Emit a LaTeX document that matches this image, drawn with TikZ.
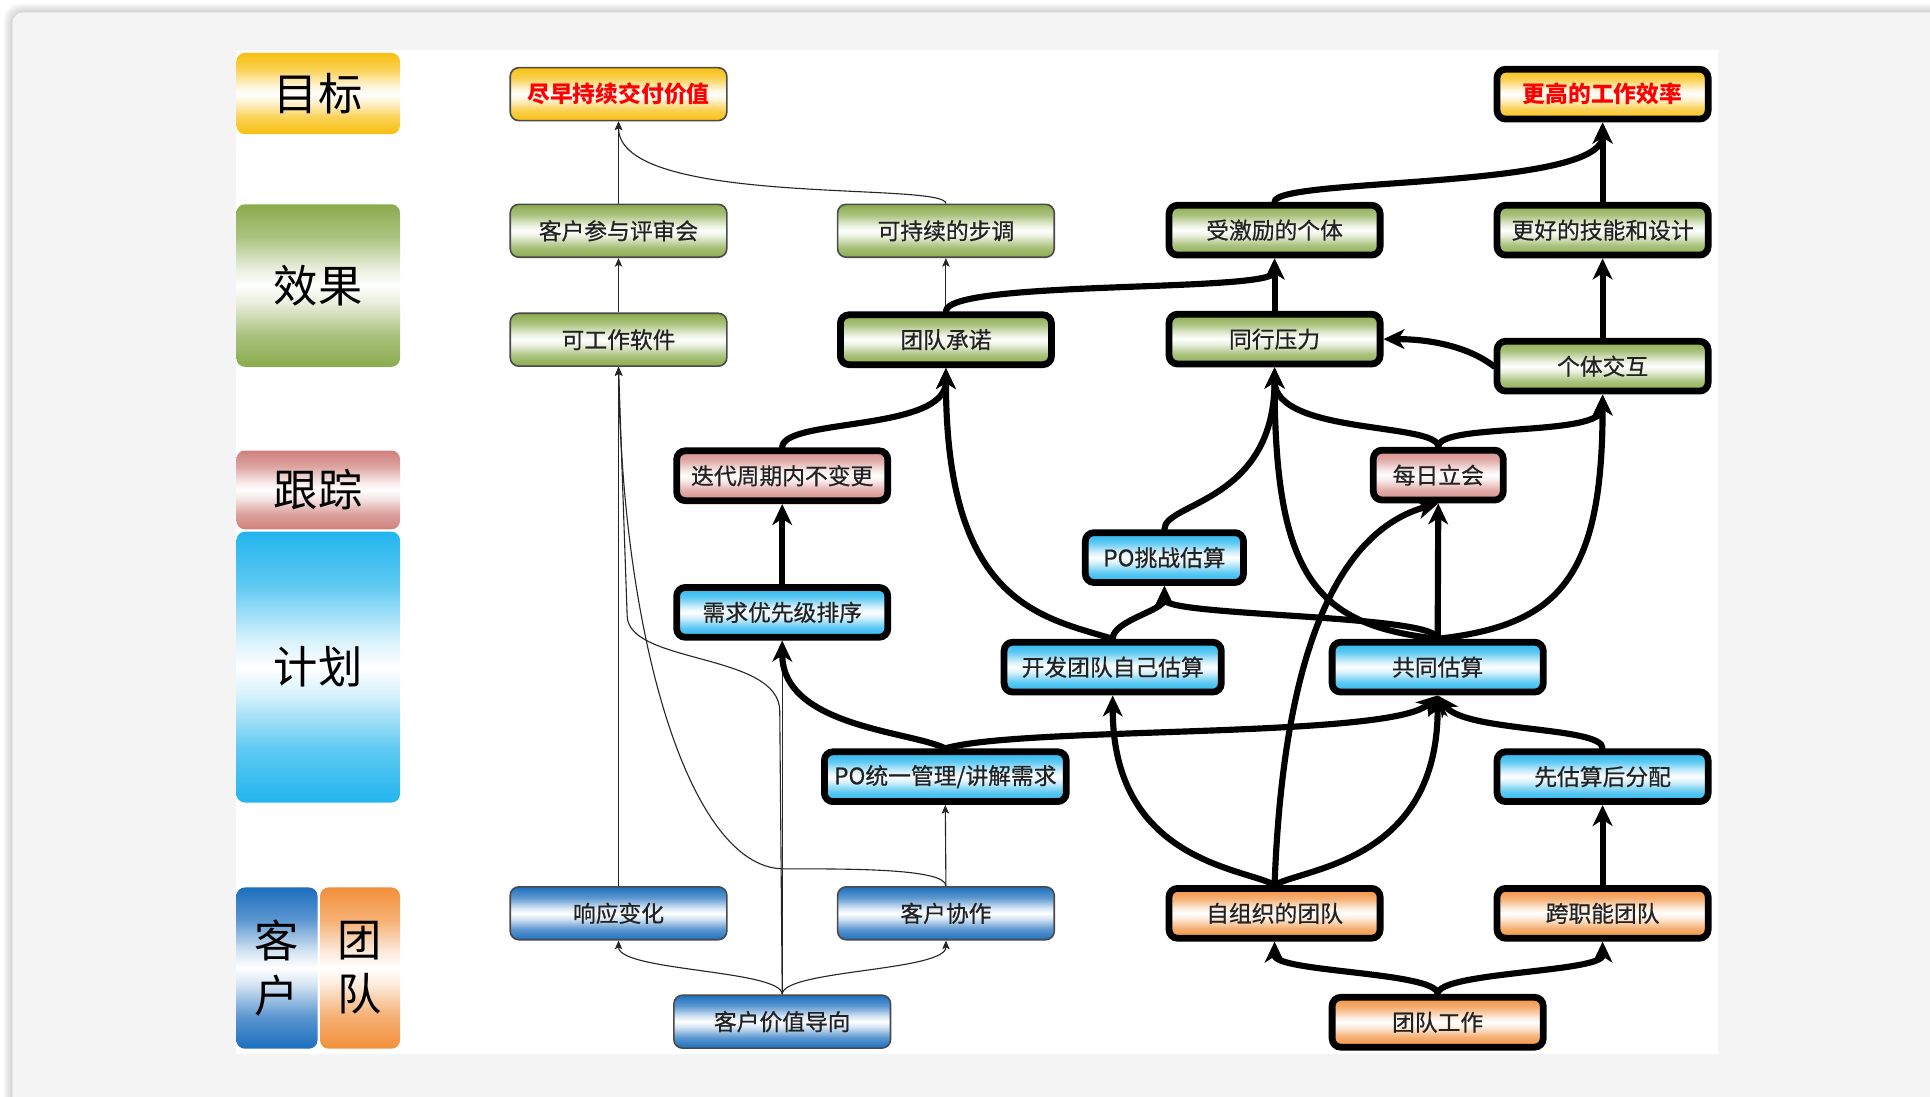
\documentclass[tikz,border=0pt]{standalone}
\usepackage{fontspec}
\newfontfamily\cjk[FakeBold=0.6]{Noto Sans CJK SC}
\newfontfamily\cjkhead{Noto Sans CJK SC}
\usetikzlibrary{arrows.meta}

% palette
\definecolor{gGreen}{HTML}{8AAB4D}
\definecolor{gGold}{HTML}{F8BF10}
\definecolor{gRose}{HTML}{D68C88}
\definecolor{gRoseDk}{HTML}{CF807B}
\definecolor{gCyan}{HTML}{22B5EE}
\definecolor{gBlue}{HTML}{1C6EBE}
\definecolor{gOrange}{HTML}{F2903C}
\definecolor{txt}{HTML}{222222}
\definecolor{rim}{HTML}{4A4A4A}
\definecolor{card}{HTML}{F4F4F4}

% glossy band: colour at top and bottom, white in the middle
\newcommand\mkshade[2]{%
  \pgfdeclareverticalshading{#1}{100bp}{%
    color(0bp)=(#2); color(25bp)=(#2); color(35bp)=(#2!72); color(45bp)=(#2!18);
    color(50bp)=(white); color(55bp)=(#2!18); color(65bp)=(#2!72);
    color(75bp)=(#2); color(100bp)=(#2)}}
\mkshade{shGreen}{gGreen}
\mkshade{shGold}{gGold}
\mkshade{shRose}{gRose}
\mkshade{shRoseDk}{gRoseDk}
\mkshade{shCyan}{gCyan}
\mkshade{shBlue}{gBlue}
\mkshade{shOrange}{gOrange}

\pgfdeclarelayer{backdrop}
\pgfdeclarelayer{links}
\pgfsetlayers{backdrop,links,main}

\begin{document}
\begin{tikzpicture}[x=1pt,y=-1pt,
  box/.style={rounded corners=7pt, inner sep=0pt, text=txt,
    font=\cjk\fontsize{18.5}{20}\selectfont},
  thinbox/.style={box, draw=rim, line width=1.3pt, minimum width=176pt, minimum height=43pt},
  thickbox/.style={box, draw=black, line width=5.5pt, minimum width=171.5pt, minimum height=40.5pt},
  goaltext/.style={text=red, font=\cjkhead\bfseries\fontsize{18.5}{20}\selectfont},
  legend/.style={rounded corners=7pt, inner sep=0pt, text=black,
    font=\cjkhead\fontsize{36}{44}\selectfont, align=center},
  thk/.style={line width=5pt, line cap=round, draw=black,
    -{Stealth[length=17pt,width=16pt,inset=5pt]}},
  thn/.style={line width=0.9pt, draw=black!85,
    -{Stealth[length=7pt,width=6pt,inset=1.5pt]}}
]
\useasboundingbox (0,0) rectangle (1568,891);

% ---------- backdrop: card with soft shadow and white panel ----------
\begin{pgfonlayer}{backdrop}
  \fill[white] (0,0) rectangle (1568,891);
  \foreach \i in {1,...,7}
    \fill[black, opacity=0.022, rounded corners=12pt] (10-\i,10-\i) rectangle (1590,910);
  \fill[card, rounded corners=9pt] (10,10) rectangle (1590,910);
  \fill[white] (192,41) rectangle (1396,856);
\end{pgfonlayer}

% ---------- legend column ----------
\node[legend, shading=shGold, minimum width=133pt, minimum height=66pt] (lgGoal) at (258.5,76) {目标};
\node[legend, shading=shGreen, minimum width=133pt, minimum height=132pt] (lgEffect) at (258.5,232) {效果};
\node[legend, shading=shRoseDk, minimum width=133pt, minimum height=64pt] (lgTrack) at (258.5,398) {跟踪};
\node[legend, shading=shCyan, minimum width=133pt, minimum height=220pt] (lgPlan) at (258.5,542) {计划};
\node[legend, shading=shBlue, minimum width=66pt, minimum height=131pt] (lgCust) at (225,786.5) {客\\户};
\node[legend, shading=shOrange, minimum width=65pt, minimum height=131pt] (lgTeam) at (292.5,786.5) {团\\队};

% ---------- goals ----------
\node[thinbox, shading=shGold, goaltext] (deliver) at (502.5,76.5) {尽早持续交付价值};
\node[thickbox, shading=shGold, goaltext] (effic) at (1302,76.5) {更高的工作效率};

% ---------- effects ----------
\node[thinbox, shading=shGreen] (rev) at (502.5,187.5) {客户参与评审会};
\node[thinbox, shading=shGreen] (pace) at (768.5,187.5) {可持续的步调};
\node[thickbox, shading=shGreen] (motiv) at (1035.5,187) {受激励的个体};
\node[thickbox, shading=shGreen] (skill) at (1302,187) {更好的技能和设计};
\node[thinbox, shading=shGreen] (soft) at (502.5,276) {可工作软件};
\node[thickbox, shading=shGreen] (commit) at (768.5,276) {团队承诺};
\node[thickbox, shading=shGreen] (peer) at (1035.5,275.5) {同行压力};
\node[thickbox, shading=shGreen] (inter) at (1302,297.5) {个体交互};

% ---------- tracking ----------
\node[thickbox, shading=shRose] (nochg) at (635.5,386.5) {迭代周期内不变更};
\node[thickbox, shading=shRose, minimum width=105.5pt] (daily) at (1168.5,386) {每日立会};

% ---------- planning ----------
\node[thickbox, shading=shCyan, minimum width=128.5pt] (pochal) at (946,453) {PO挑战估算};
\node[thickbox, shading=shCyan] (prio) at (635.5,497.5) {需求优先级排序};
\node[thickbox, shading=shCyan, minimum width=176.5pt] (devest) at (904,542) {开发团队自己估算};
\node[thickbox, shading=shCyan] (joint) at (1168,542) {共同估算};
\node[thickbox, shading=shCyan, minimum width=196.5pt] (pomgr) at (768,631) {PO统一管理/讲解需求};
\node[thickbox, shading=shCyan] (estfirst) at (1302,631) {先估算后分配};

% ---------- customer / team ----------
\node[thinbox, shading=shBlue] (resp) at (502.5,742) {响应变化};
\node[thinbox, shading=shBlue] (collab) at (768.5,742) {客户协作};
\node[thinbox, shading=shBlue] (cvalue) at (635.5,830) {客户价值导向};
\node[thickbox, shading=shOrange] (selforg) at (1035.5,742) {自组织的团队};
\node[thickbox, shading=shOrange] (xfunc) at (1302,742) {跨职能团队};
\node[thickbox, shading=shOrange] (teamwork) at (1168,830.5) {团队工作};

\begin{pgfonlayer}{links}
  % ----- customer side (thin links) -----
  \draw[thn] (rev.north) -- (deliver.south);
  \draw[thn] (pace.north) .. controls +(0,-18) and +(0,70) .. (deliver.south);
  \draw[thn] (soft.north) -- (rev.south);
  \draw[thn] (commit.north) -- (pace.south);
  \draw[thn] (resp.north) -- (soft.south);
  \draw[thn] (collab.north) .. controls +(0,-14) and +(60,0) .. ++(-133,-14)
                            .. controls +(-75,-2) and +(3,222) .. (soft.south);
  \draw[thn] (cvalue.north) -- ++(-2,-230) .. controls +(0,-48) and +(0,40) .. ++(-124,-78)
                            -- (soft.south);
  \draw[thn] (cvalue.north) .. controls +(0,-20) and +(0,25) .. (resp.south);
  \draw[thn] (cvalue.north) .. controls +(0,-20) and +(0,25) .. (collab.south);
  \draw[thn] (collab.north) -- (pomgr.south);
  \draw[thn] (cvalue.north) -- (prio.south);

  % ----- team side (thick links) -----
  \draw[thk] (inter.north) -- (skill.south);
  \draw[thk] (skill.north) -- (effic.south);
  \draw[thk] (motiv.north) .. controls +(0,-20) and +(0,55) .. (effic.south);
  \draw[thk] (peer.north) -- (motiv.south);
  \draw[thk] (commit.north) .. controls +(0,-26) and +(0,28) .. (motiv.south);
  \draw[thk] (inter.west) .. controls +(-22,-17) and +(35,0) .. (peer.east);
  \draw[thk] (nochg.north) .. controls +(0,-24) and +(0,52) .. (commit.south);
  \draw[thk] (devest.north) .. controls +(-60,-18) and +(0,190) .. (commit.south);
  \draw[thk] (devest.north) .. controls +(0,-15) and +(0,20) .. (pochal.south);
  \draw[thk] (joint.north) .. controls +(0,-20) and +(0,25) .. (pochal.south);
  \draw[thk] (pochal.north) .. controls +(0,-22) and +(0,110) .. (peer.south);
  \draw[thk] (joint.north) .. controls +(-98,-11) and +(0,172) .. (peer.south);
  \draw[thk] (daily.north) .. controls +(0,-20) and +(0,55) .. (peer.south);
  \draw[thk] (daily.north) .. controls +(0,-20) and +(0,35) .. (inter.south);
  \draw[thk] (joint.north) -- (daily.south);
  \draw[thk] (joint.north) .. controls +(98,-11) and +(0,150) .. (inter.south);
  \draw[thk] (selforg.north) .. controls +(8,-219) and +(-68,19) .. (daily.south);
  \draw[thk] (selforg.north) .. controls +(-25,-14) and +(0,135) .. (devest.south);
  \draw[thk] (selforg.north) .. controls +(25,-14) and +(0,135) .. (joint.south);
  \draw[thk] (pomgr.north) .. controls +(-28,-14) and +(0,70) .. (prio.south);
  \draw[thk] (pomgr.north) .. controls +(62,-18) and +(-38,35) .. (joint.south);
  \draw[thk] (estfirst.north) .. controls +(0,-18) and +(22,30) .. (joint.south);
  \draw[thk] (xfunc.north) -- (estfirst.south);
  \draw[thk] (teamwork.north) .. controls +(0,-18) and +(0,25) .. (selforg.south);
  \draw[thk] (teamwork.north) .. controls +(0,-18) and +(0,25) .. (xfunc.south);
  \draw[thk] (prio.north) -- (nochg.south);
\end{pgfonlayer}
\end{tikzpicture}
\end{document}
